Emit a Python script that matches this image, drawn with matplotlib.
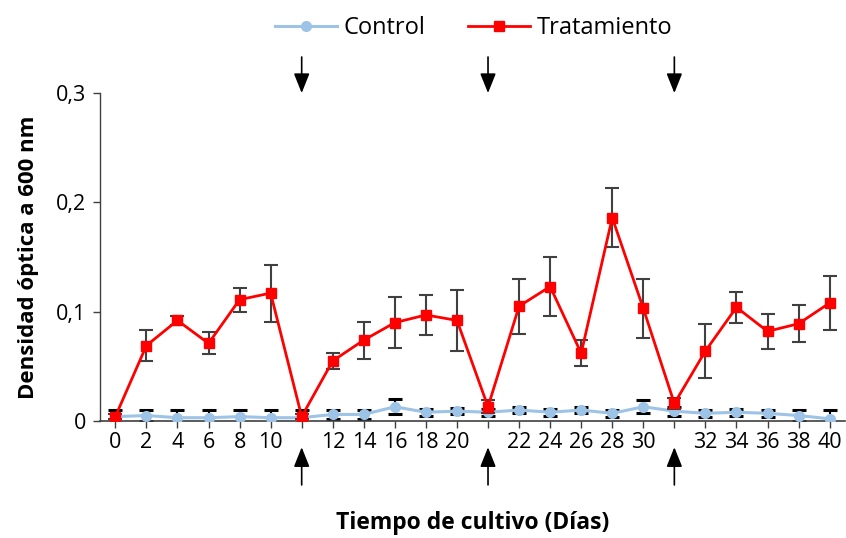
import numpy as np
import matplotlib
matplotlib.use("Agg")
import matplotlib.pyplot as plt

plt.rcParams['font.family'] = ['Open Sans', 'DejaVu Sans']

# Datos (posiciones vacías = momento de tratamiento)
dias = ['0', '2', '4', '6', '8', '10', '', '12', '14', '16', '18', '20', '',
        '22', '24', '26', '28', '30', '', '32', '34', '36', '38', '40']
control = [0.004, 0.005, 0.003, 0.003, 0.004, 0.003, 0.003, 0.006, 0.006, 0.013,
           0.008, 0.009, 0.008, 0.010, 0.008, 0.010, 0.007, 0.013, 0.009, 0.007,
           0.008, 0.007, 0.005, 0.002]
control_err = [0.006, 0.005, 0.007, 0.007, 0.006, 0.007, 0.007, 0.004, 0.004, 0.007,
               0.003, 0.003, 0.003, 0.003, 0.003, 0.003, 0.003, 0.006, 0.004, 0.003,
               0.003, 0.003, 0.005, 0.008]
tratamiento = [0.004, 0.069, 0.092, 0.071, 0.111, 0.117, 0.004, 0.055, 0.074, 0.090,
               0.097, 0.092, 0.013, 0.105, 0.123, 0.062, 0.186, 0.103, 0.016, 0.064,
               0.104, 0.082, 0.089, 0.108]
tratamiento_err = [0.002, 0.014, 0.004, 0.010, 0.011, 0.026, 0.002, 0.007, 0.017, 0.023,
                   0.018, 0.028, 0.006, 0.025, 0.027, 0.012, 0.027, 0.027, 0.005, 0.025,
                   0.014, 0.016, 0.017, 0.025]

x = np.arange(len(dias))

fig = plt.figure(figsize=(8.46, 5.38), dpi=100)
ax = fig.add_axes([0.118, 0.2175, 0.881, 0.6095])

# Control
ax.errorbar(x, control, yerr=control_err, fmt='none', ecolor='black',
            elinewidth=1.5, capsize=5, capthick=2.2, zorder=2)
ax.plot(x, control, color='#9DC3E6', lw=2.2, marker='o', markersize=7,
        label='Control', zorder=3)

# Tratamiento
ax.errorbar(x, tratamiento, yerr=tratamiento_err, fmt='none', ecolor='#404040',
            elinewidth=1.5, capsize=5, capthick=1.5, zorder=4)
ax.plot(x, tratamiento, color='#FF0000', lw=2, marker='s', markersize=7.5,
        label='Tratamiento', zorder=5)

ax.set_xlim(-0.5, len(dias) - 0.5)
ax.set_ylim(0, 0.3)
ax.set_xticks(x)
ax.set_xticklabels(dias)
ax.set_yticks([0, 0.1, 0.2, 0.3])
ax.set_yticklabels(['0', '0,1', '0,2', '0,3'])
ax.tick_params(axis='x', length=5, width=1, color='#404040', labelsize=15.5, pad=3)
ax.tick_params(axis='y', length=5, width=1, color='#404040', labelsize=15.5, pad=5)
for s in ['top', 'right']:
    ax.spines[s].set_visible(False)
ax.spines['left'].set_color('#404040')
ax.spines['bottom'].set_color('#404040')
ax.spines['left'].set_linewidth(1)
ax.spines['bottom'].set_linewidth(1.2)

# Flechas en los puntos de tratamiento
trans = ax.get_xaxis_transform()
for i, d in enumerate(dias):
    if d == '':
        ax.annotate('', xy=(i, 1.0), xytext=(i, 1.11), xycoords=trans, textcoords=trans,
                    arrowprops=dict(arrowstyle='-|>,head_width=0.4,head_length=1.0',
                                    color='black', lw=1.2, mutation_scale=12,
                                    shrinkA=0, shrinkB=0), annotation_clip=False)
        ax.annotate('', xy=(i, -0.08), xytext=(i, -0.195), xycoords=trans, textcoords=trans,
                    arrowprops=dict(arrowstyle='-|>,head_width=0.4,head_length=1.0',
                                    color='black', lw=1.2, mutation_scale=12,
                                    shrinkA=0, shrinkB=0), annotation_clip=False)

ax.set_xlabel('Tiempo de cultivo (Días)', fontsize=16.5, fontweight='bold', labelpad=42)
ax.set_ylabel('Densidad óptica a 600 nm', fontsize=16, fontweight='bold', labelpad=12)

fig.legend(loc='upper center', bbox_to_anchor=(0.56, 1.01), ncol=2, frameon=False,
           fontsize=17, handlelength=2.6, columnspacing=1.8, handletextpad=0.3)

fig.savefig('out.png', dpi=100)
